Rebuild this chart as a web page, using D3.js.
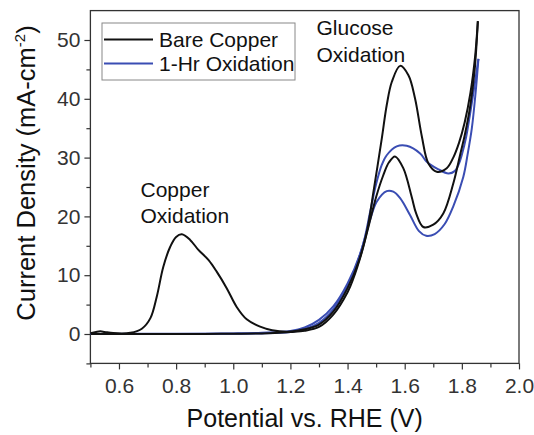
<!doctype html>
<html>
  <head>
    <script src="https://cdnjs.cloudflare.com/ajax/libs/d3/7.8.5/d3.min.js"></script>
    <style>
      body { margin: 0; background: #fff; }
      svg { font-family: "Liberation Sans", Arial, sans-serif; }
    </style>
  </head>
  <body>
    <svg id="chart" width="534" height="435"></svg>
    <script>
        // potential (V vs RHE), current density (mA/cm2)
        var bareFwd = [[0.50,0.15],[0.52,0.35],[0.535,0.45],[0.55,0.35],[0.58,0.15],[0.64,0.2],[0.68,0.9],[0.71,2.7],
            [0.732,6.3],[0.755,11.4],[0.779,14.8],[0.80,16.5],[0.82,16.95],[0.849,16.0],[0.878,14.3],[0.913,12.6],
            [0.942,10.6],[0.977,7.8],[1.012,4.6],[1.047,2.5],[1.094,1.25],[1.136,0.65],[1.19,0.4],[1.25,0.8],
            [1.30,1.6],[1.35,3.8],[1.40,7.8],[1.44,12.5],[1.47,18],[1.49,24],[1.52,33.3],[1.537,38.9],[1.555,42.9],
            [1.584,45.6],[1.613,44.0],[1.636,40.1],[1.66,33.6],[1.683,29.0],[1.712,27.6],[1.747,28.2],[1.77,30],
            [1.79,32.5],[1.81,36],[1.83,41],[1.846,47],[1.856,53.2]];
        var bareRev = [[1.856,53.2],[1.845,45],[1.83,39],[1.811,34],[1.794,30.5],[1.77,25.6],[1.735,20.5],[1.70,18.6],
            [1.665,18.2],[1.64,20.5],[1.625,23.2],[1.595,28.2],[1.566,30.2],[1.545,29.2],[1.525,27],[1.50,23.3],
            [1.475,18.6],[1.45,13.9],[1.42,9.4],[1.40,7.1],[1.35,3.3],[1.30,1.2],[1.25,0.55],[1.20,0.35],[1.10,0.1],
            [0.90,0.02],[0.50,0]];
        var oxFwd = [[0.50,0.02],[0.80,0.05],[1.00,0.1],[1.10,0.2],[1.20,0.5],[1.25,1.1],[1.30,2.4],[1.35,4.7],
            [1.40,8.6],[1.45,14.5],[1.48,21],[1.50,25.5],[1.52,28.8],[1.537,30.4],[1.572,31.9],[1.607,32.0],
            [1.654,30.7],[1.677,29.3],[1.718,28.0],[1.753,27.3],[1.775,27.7],[1.79,29],[1.80,30.5],[1.815,33.5],
            [1.829,37.5],[1.845,42.5],[1.858,46.8]];
        var oxRev = [[1.858,46.8],[1.848,41],[1.835,35],[1.82,30.5],[1.805,26.7],[1.77,21.7],[1.74,18.7],[1.705,17.0],
            [1.675,16.7],[1.65,17.5],[1.619,20.2],[1.584,23.1],[1.56,24.2],[1.537,24.3],[1.502,22.5],[1.48,19.6],
            [1.46,16.2],[1.43,11.6],[1.40,8.2],[1.35,4.2],[1.30,1.9],[1.25,0.8],[1.20,0.35],[1.10,0.1],[0.90,0.02],
            [0.50,0]];

        var xTicks = [0.6, 0.8, 1.0, 1.2, 1.4, 1.6, 1.8, 2.0];
        var xMinor = [0.5, 0.7, 0.9, 1.1, 1.3, 1.5, 1.7, 1.9];
        var yTicks = [0, 10, 20, 30, 40, 50];
        var yMinor = [-5, 5, 15, 25, 35, 45];

        var seriesNames = ["Bare Copper", "1-Hr Oxidation"];
        var seriesColors = ["#111111", "#3a4db3"];

        var svg = d3.select("#chart");
        var plotL = 90.4, plotR = 519, plotT = 10.6, plotB = 363.4;

        var x = d3.scaleLinear().domain([0.5, 2.0]).range([plotL, plotR]);
        var y = d3.scaleLinear().domain([-5, 55]).range([plotB, plotT]);

        svg.append("rect").attr("width", 534).attr("height", 435).attr("fill", "#fff");

        svg.append("defs").append("clipPath").attr("id", "clip")
            .append("rect").attr("x", plotL).attr("y", plotT).attr("width", plotR - plotL).attr("height", plotB - plotT);

        // axes
        svg.append("g").attr("transform", "translate(0," + plotB + ")")
            .call(d3.axisBottom(x).tickValues(xTicks).tickFormat(d3.format(".1f")).tickSize(6).tickSizeOuter(0).tickPadding(9));
        svg.append("g").attr("transform", "translate(0," + plotB + ")")
            .call(d3.axisBottom(x).tickValues(xMinor).tickFormat("").tickSize(4).tickSizeOuter(0));
        svg.append("g").attr("transform", "translate(" + plotL + ",0)")
            .call(d3.axisLeft(y).tickValues(yTicks).tickSize(6).tickSizeOuter(0).tickPadding(4));
        svg.append("g").attr("transform", "translate(" + plotL + ",0)")
            .call(d3.axisLeft(y).tickValues(yMinor).tickFormat("").tickSize(4).tickSizeOuter(0));

        svg.selectAll(".domain").remove();
        svg.selectAll(".tick line").attr("stroke", "#333").attr("stroke-width", 1.2);
        svg.selectAll(".tick text").attr("fill", "#333").style("font-size", "21px")
            .style("font-family", "'Liberation Sans', Arial, sans-serif");

        svg.append("rect")
            .attr("x", plotL).attr("y", plotT).attr("width", plotR - plotL).attr("height", plotB - plotT)
            .attr("fill", "none").attr("stroke", "#333").attr("stroke-width", 1.3);

        // curves
        var line = d3.line()
            .x(d => x(d[0]))
            .y(d => y(d[1]))
            .curve(d3.curveCatmullRom.alpha(0.5));

        var plot = svg.append("g").attr("clip-path", "url(#clip)");
        [[oxFwd, 1], [oxRev, 1], [bareFwd, 0], [bareRev, 0]].forEach(function(s) {
            plot.append("path")
                .attr("d", line(s[0]))
                .attr("fill", "none")
                .attr("stroke", seriesColors[s[1]])
                .attr("stroke-width", 2)
                .attr("stroke-linejoin", "round");
        });

        // legend
        var legend = svg.append("g");
        legend.append("rect")
            .attr("x", 102).attr("y", 23).attr("width", 193).attr("height", 57)
            .attr("fill", "#fff").attr("stroke", "#888").attr("stroke-width", 1);
        seriesNames.forEach(function(name, i) {
            var ly = 39.5 + i * 24;
            legend.append("line")
                .attr("x1", 104).attr("x2", 153).attr("y1", ly).attr("y2", ly)
                .attr("stroke", seriesColors[i]).attr("stroke-width", 2);
            legend.append("text")
                .attr("x", 159).attr("y", ly + 7.5)
                .attr("fill", "#111").style("font-size", "21px")
                .text(name);
        });

        // annotations
        var notes = [["Copper", 140.5, 197], ["Oxidation", 140.5, 223], ["Glucose", 316.5, 35], ["Oxidation", 316.5, 61.5]];
        notes.forEach(function(n) {
            svg.append("text").attr("x", n[1]).attr("y", n[2])
                .attr("fill", "#111").style("font-size", "21px").text(n[0]);
        });

        // axis titles
        svg.append("text")
            .attr("x", (plotL + plotR) / 2).attr("y", 427)
            .attr("text-anchor", "middle").attr("fill", "#111").style("font-size", "25px")
            .text("Potential vs. RHE (V)");

        var yt = svg.append("text")
            .attr("transform", "translate(35,173) rotate(-90)")
            .attr("text-anchor", "middle").attr("fill", "#111").style("font-size", "25.5px");
        yt.append("tspan").text("Current Density (mA-cm");
        yt.append("tspan").attr("dy", -10).style("font-size", "15px").text("-2");
        yt.append("tspan").attr("dy", 10).text(")");
    </script>
  </body>
</html>
